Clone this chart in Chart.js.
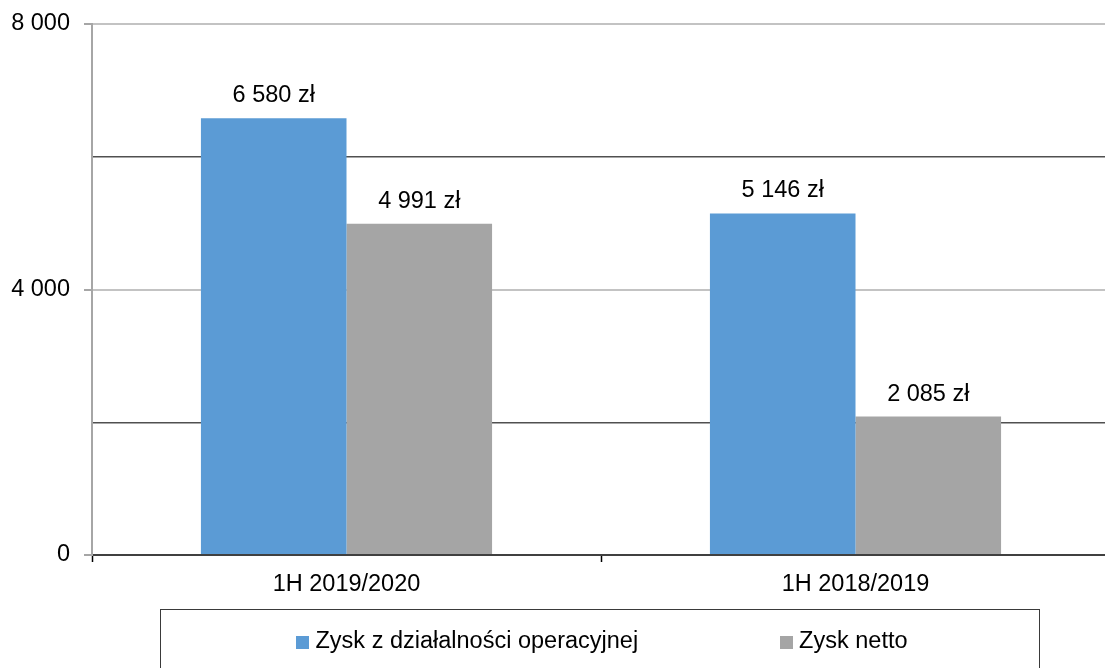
<!DOCTYPE html>
<html>
<head>
<meta charset="utf-8">
<script src="https://cdn.jsdelivr.net/npm/chart.js@4/dist/chart.umd.min.js"></script>
<style>
  html, body { margin: 0; padding: 0; background: #fff; overflow: hidden; }
  #wrap { width: 1105px; height: 668px; overflow: hidden; }
</style>
</head>
<body>
<div id="wrap"><canvas id="chart" width="1112" height="668"></canvas></div>
<script>
// --- DATA ---
const categories = ['1H 2019/2020', '1H 2018/2019'];
const seriesNames = ['Zysk z działalności operacyjnej', 'Zysk netto'];
const operatingProfit = [6580, 5146];
const netProfit = [4991, 2085];
const yTicks = [0, 2000, 4000, 6000, 8000];

const FONT = '"Liberation Sans", Arial, sans-serif';
const FONT_SIZE = 23.5;

// thousands with a space, like "8 000"
function fmt(v) {
    return String(v).replace(/\B(?=(\d{3})+(?!\d))/g, ' ');
}
const isMajor = v => v % 4000 === 0;

// value labels above bars
const barLabels = {
    id: 'barLabels',
    afterDatasetsDraw(chart) {
        const ctx = chart.ctx;
        ctx.save();
        ctx.font = FONT_SIZE + 'px ' + FONT;
        ctx.fillStyle = '#000';
        ctx.textAlign = 'center';
        ctx.textBaseline = 'alphabetic';
        chart.data.datasets.forEach((ds, i) => {
            chart.getDatasetMeta(i).data.forEach((bar, j) => {
                ctx.fillText(fmt(ds.data[j]) + ' zł', bar.x, bar.y - 16);
            });
        });
        ctx.restore();
    }
};

// boxed legend under the axis
const boxLegend = {
    id: 'boxLegend',
    afterDraw(chart) {
        const ctx = chart.ctx;
        const boxL = 160.5, boxR = 1039.5, boxT = 609.5, boxB = 700;
        ctx.save();
        ctx.strokeStyle = '#3a3a3a';
        ctx.lineWidth = 1;
        ctx.strokeRect(boxL, boxT, boxR - boxL, boxB - boxT);

        ctx.font = FONT_SIZE + 'px ' + FONT;
        ctx.textBaseline = 'middle';
        ctx.textAlign = 'left';
        const sq = 13, gapSq = 6, gapItem = 142;
        const widths = chart.data.datasets.map(ds => sq + gapSq + ctx.measureText(ds.label).width);
        const total = widths.reduce((a, b) => a + b, 0) + gapItem * (widths.length - 1);
        let x = (boxL + boxR) / 2 + 2 - total / 2;
        const cy = 642;
        chart.data.datasets.forEach((ds, i) => {
            ctx.fillStyle = ds.backgroundColor;
            ctx.fillRect(Math.round(x), cy - 6, sq, sq);
            ctx.fillStyle = '#000';
            ctx.fillText(ds.label, x + sq + gapSq, cy);
            x += widths[i] + gapItem;
        });
        ctx.restore();
    }
};

new Chart(document.getElementById('chart'), {
    type: 'bar',
    data: {
        labels: categories,
        datasets: [
            { label: seriesNames[0], data: operatingProfit, backgroundColor: '#5B9BD5' },
            { label: seriesNames[1], data: netProfit, backgroundColor: '#A5A5A5' }
        ]
    },
    options: {
        responsive: false,
        animation: false,
        devicePixelRatio: 1,
        layout: { padding: { top: 24, right: 2, bottom: 59, left: 0 } },
        datasets: { bar: { categoryPercentage: 0.572, barPercentage: 1 } },
        plugins: { legend: { display: false }, tooltip: { enabled: false } },
        scales: {
            x: {
                offset: true,
                grid: { offset: true, drawOnChartArea: false, drawTicks: true, tickLength: 7, tickColor: '#000', tickWidth: 1.5 },
                border: { display: true, color: '#404040', width: 2 },
                ticks: { color: '#000', padding: 8, font: { family: FONT, size: FONT_SIZE } },
                afterFit(scale) { scale.height = 54; scale.paddingLeft = 0; scale.paddingRight = 0; }
            },
            y: {
                min: 0,
                max: 8000,
                afterBuildTicks(scale) { scale.ticks = yTicks.map(v => ({ value: v })); },
                grid: {
                    color: c => c.tick.value === 0 ? 'rgba(0,0,0,0)' : (isMajor(c.tick.value) ? '#c3c3c3' : '#505050'),
                    lineWidth: c => isMajor(c.tick.value) ? 2 : 1.5,
                    tickColor: c => isMajor(c.tick.value) ? '#a6a6a6' : 'rgba(0,0,0,0)',
                    tickLength: 8,
                    tickWidth: 2
                },
                border: { display: true, color: '#a6a6a6', width: 2 },
                ticks: {
                    color: '#000',
                    padding: 14,
                    font: { family: FONT, size: FONT_SIZE },
                    callback: v => isMajor(v) ? fmt(v) : ''
                },
                afterFit(scale) { scale.width = 92; scale.paddingTop = 0; scale.paddingBottom = 0; }
            }
        }
    },
    plugins: [barLabels, boxLegend]
});
</script>
</body>
</html>
